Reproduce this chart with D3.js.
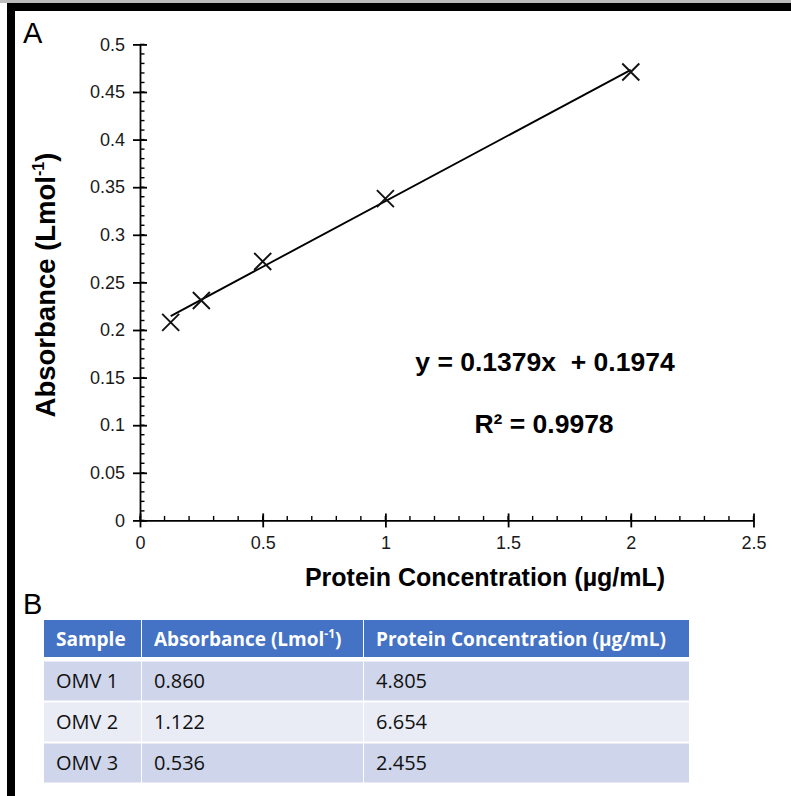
<!DOCTYPE html>
<html>
<head>
<meta charset="utf-8">
<script src="https://cdn.jsdelivr.net/npm/d3@7"></script>
<style>
  body { margin: 0; background: #fff; }
  svg { display: block; }
</style>
</head>
<body>
<svg id="chart" width="791" height="796"></svg>
<script>
// standard curve data
const concs = [0.125, 0.25, 0.5, 1, 2];
const absorb = [0.208, 0.231, 0.272, 0.338, 0.471];
const slope = 0.1379, intercept = 0.1974;
const xTicks = [0, 0.5, 1, 1.5, 2, 2.5];
const yTicks = [0, 0.05, 0.1, 0.15, 0.2, 0.25, 0.3, 0.35, 0.4, 0.45, 0.5];

// table data
const tableHead = ['Sample', 'Absorbance (Lmol', 'Protein Concentration (µg/mL)'];
const samples = ['OMV 1', 'OMV 2', 'OMV 3'];
const sampleAbs = ['0.860', '1.122', '0.536'];
const sampleConc = ['4.805', '6.654', '2.455'];

const svg = d3.select('#chart');
const font = '"Liberation Sans", Arial, sans-serif';
const tblFont = '"Open Sans", "Noto Sans", sans-serif';

// frame
svg.append('rect').attr('x', 0).attr('y', 0).attr('width', 791).attr('height', 3).attr('fill', '#bbb');
svg.append('rect').attr('x', 7).attr('y', 3).attr('width', 784).attr('height', 8).attr('fill', '#000');
svg.append('rect').attr('x', 7).attr('y', 3).attr('width', 8).attr('height', 793).attr('fill', '#000');

const x = d3.scaleLinear().domain([0, 2.5]).range([140, 753.5]);
const y = d3.scaleLinear().domain([0, 0.5]).range([520.4, 44.4]);

// minor ticks
const g = svg.append('g');
d3.range(0, 2.5001, 0.1).forEach(v => {
  g.append('line').attr('x1', x(v)).attr('x2', x(v)).attr('y1', y(0)).attr('y2', y(0) - 4.5)
    .attr('stroke', '#000').attr('stroke-width', 1.4);
});
d3.range(0, 0.5001, 0.01).forEach(v => {
  g.append('line').attr('x1', x(0)).attr('x2', x(0) + 4.5).attr('y1', y(v)).attr('y2', y(v))
    .attr('stroke', '#000').attr('stroke-width', 1.4);
});

const xAxis = svg.append('g').attr('transform', `translate(0,${y(0)})`)
  .call(d3.axisBottom(x).tickValues(xTicks).tickSize(0).tickPadding(16).tickFormat(d3.format('')));
const yAxis = svg.append('g').attr('transform', `translate(${x(0)},0)`)
  .call(d3.axisLeft(y).tickValues(yTicks).tickSize(0).tickPadding(15).tickFormat(d3.format('')));
[xAxis, yAxis].forEach(a => {
  a.attr('font-size', null).attr('font-family', null);
  a.select('.domain').attr('stroke', '#000').attr('stroke-width', 1.8);
  a.selectAll('text').style('font-family', font).style('font-size', '18px').attr('fill', '#1a1a1a');
});
// major ticks crossing the axes
xAxis.selectAll('.tick').append('line').attr('y1', -7).attr('y2', 7).attr('stroke', '#000').attr('stroke-width', 1.8);
yAxis.selectAll('.tick').append('line').attr('x1', -7).attr('x2', 7).attr('stroke', '#000').attr('stroke-width', 1.8);

// trendline
svg.append('line')
  .attr('x1', x(concs[0])).attr('y1', y(slope * concs[0] + intercept))
  .attr('x2', x(concs[concs.length - 1])).attr('y2', y(slope * concs[concs.length - 1] + intercept))
  .attr('stroke', '#000').attr('stroke-width', 1.9);

// markers
svg.append('g').selectAll('path').data(concs).join('path')
  .attr('d', (d, i) => {
    const cx = x(d), cy = y(absorb[i]), s = 8.5;
    return `M${cx - s},${cy - s}L${cx + s},${cy + s}M${cx - s},${cy + s}L${cx + s},${cy - s}`;
  })
  .attr('stroke', '#111').attr('stroke-width', 1.9).attr('fill', 'none');

// labels
svg.append('text').attr('x', 23).attr('y', 43).attr('font-family', font).attr('font-size', 29).text('A');
svg.append('text').attr('x', 23).attr('y', 614).attr('font-family', font).attr('font-size', 29).text('B');

const yl = svg.append('text').attr('transform', 'translate(55,285) rotate(-90)')
  .attr('text-anchor', 'middle').attr('font-family', font).attr('font-size', 27.5).attr('font-weight', 'bold');
yl.append('tspan').text('Absorbance (Lmol');
yl.append('tspan').attr('font-size', 16).attr('dy', -11).text('-1');
yl.append('tspan').attr('dy', 11).text(')');

svg.append('text').attr('x', 485).attr('y', 586).attr('text-anchor', 'middle')
  .attr('font-family', font).attr('font-size', 25).attr('font-weight', 'bold')
  .text('Protein Concentration (µg/mL)');

svg.append('text').attr('x', 545).attr('y', 371).attr('text-anchor', 'middle')
  .attr('font-family', font).attr('font-size', 26.5).attr('font-weight', 'bold')
  .attr('xml:space', 'preserve').style('white-space', 'pre')
  .text(`y = ${slope}x  + ${intercept}`);
svg.append('text').attr('x', 544).attr('y', 433).attr('text-anchor', 'middle')
  .attr('font-family', font).attr('font-size', 26.5).attr('font-weight', 'bold')
  .text('R² = 0.9978');

// table
const colX = [44, 142, 364];
const colW = [97, 221, 325];
const rowY = [620, 661.5, 702.5, 743.5];
const rowH = [37, 39, 39, 39];
const fills = ['#4472C4', '#CFD5EA', '#E9EBF5', '#CFD5EA'];
const rows = [tableHead].concat(samples.map((s, i) => [s, sampleAbs[i], sampleConc[i]]));
rows.forEach((r, ri) => {
  r.forEach((cell, ci) => {
    svg.append('rect').attr('x', colX[ci]).attr('y', rowY[ri]).attr('width', colW[ci]).attr('height', rowH[ri])
      .attr('fill', fills[ri]);
    const t = svg.append('text').attr('x', colX[ci] + 12).attr('y', rowY[ri] + rowH[ri] / 2 + 7)
      .attr('font-family', tblFont).attr('font-size', ri === 0 ? 19 : 20)
      .attr('font-weight', ri === 0 ? 'bold' : 'normal')
      .attr('fill', ri === 0 ? '#fff' : '#111');
    if (ri === 0 && ci === 1) {
      t.append('tspan').text(cell);
      t.append('tspan').attr('font-size', 12).attr('dy', -8).text('-1');
      t.append('tspan').attr('dy', 8).text(')');
    } else {
      t.text(cell);
    }
  });
});
</script>
</body>
</html>
